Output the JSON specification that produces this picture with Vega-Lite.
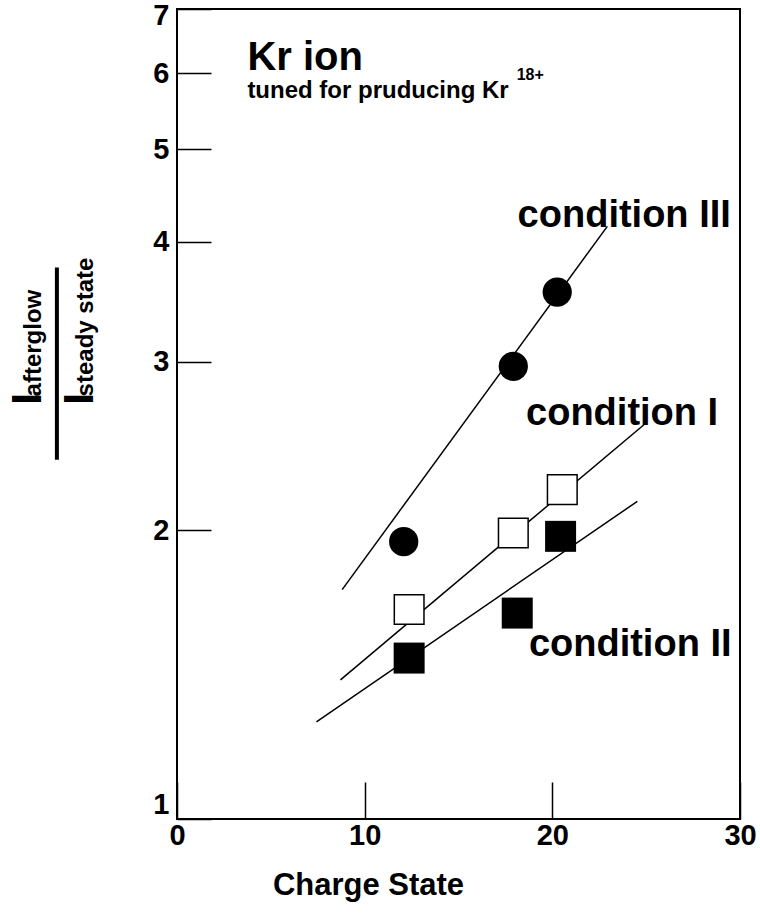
{
  "$schema": "https://vega.github.io/schema/vega-lite/v6.json",
  "width": 563,
  "height": 810,
  "autosize": {"type": "none"},
  "padding": {"left": 177, "top": 9, "right": 20, "bottom": 98},
  "background": "white",
  "config": {
    "view": {"stroke": "black", "strokeWidth": 2},
    "font": "Liberation Sans",
    "text": {"font": "Liberation Sans", "fontWeight": "bold", "color": "black"}
  },
  "datasets": {
    "points": [
      {"series": "III", "x": 20.26, "y": 3.546},
      {"series": "III", "x": 17.92, "y": 2.967},
      {"series": "III", "x": 12.08, "y": 1.947},
      {"series": "I", "x": 20.53, "y": 2.206},
      {"series": "I", "x": 17.92, "y": 1.988},
      {"series": "I", "x": 12.37, "y": 1.654},
      {"series": "II", "x": 20.44, "y": 1.972},
      {"series": "II", "x": 18.13, "y": 1.64},
      {"series": "II", "x": 12.37, "y": 1.472}
    ],
    "fits": [
      {"fit": "III", "x": 8.8, "y": 1.735},
      {"fit": "III", "x": 22.93, "y": 4.153},
      {"fit": "I", "x": 8.71, "y": 1.397},
      {"fit": "I", "x": 24.88, "y": 2.578},
      {"fit": "II", "x": 7.43, "y": 1.263},
      {"fit": "II", "x": 24.53, "y": 2.145}
    ],
    "condLabels": [
      {"x": 18.15, "y": 4.15, "label": "condition III"},
      {"x": 18.6, "y": 2.578, "label": "condition I"},
      {"x": 18.75, "y": 1.48, "label": "condition II"}
    ],
    "head": [{"x": 3.75, "y": 6.05, "label": "Kr ion"}],
    "sub": [{"x": 3.75, "y": 5.655, "label": "tuned for pruducing Kr"}],
    "sup": [{"x": 18.1, "y": 5.9, "label": "18+"}],
    "fracBig": [
      {"x": -7.24, "y": 2.705, "label": "I"},
      {"x": -4.46, "y": 2.705, "label": "I"}
    ],
    "fracSmall": [
      {"x": -7.24, "y": 2.76, "label": "afterglow"},
      {"x": -4.46, "y": 2.76, "label": "steady state"}
    ],
    "bar": [{"x": -6.4, "y": 3.761, "y2": 2.371}]
  },
  "encoding": {
    "x": {
      "field": "x", "type": "quantitative",
      "scale": {"domain": [0, 30], "nice": false, "zero": false},
      "axis": {
        "values": [0, 10, 20, 30],
        "domain": false, "grid": false,
        "tickSize": -37, "tickWidth": 1.5, "tickColor": "black",
        "labelFont": "Liberation Sans", "labelFontWeight": "bold", "labelFontSize": 29,
        "labelColor": "black", "labelPadding": 39, "labelFlush": false, "labelOverlap": false,
        "title": "Charge State",
        "titleFont": "Liberation Sans", "titleFontWeight": "bold", "titleFontSize": 31, "titleColor": "black",
        "titleX": 191, "titleY": 75, "titleAlign": "center", "titleBaseline": "alphabetic"
      }
    },
    "y": {
      "field": "y", "type": "quantitative",
      "scale": {"type": "log", "domain": [1, 7], "nice": false},
      "axis": {
        "values": [1, 2, 3, 4, 5, 6, 7],
        "format": "d",
        "domain": false, "grid": false,
        "tickSize": -34, "tickWidth": 1.5, "tickColor": "black",
        "labelFont": "Liberation Sans", "labelFontWeight": "bold", "labelFontSize": 29,
        "labelColor": "black", "labelPadding": 42, "labelFlush": false, "labelOverlap": false,
        "labelBaseline": {"condition": {"test": "datum.value == 1", "value": "bottom"}, "value": "middle"},
        "labelOffset": {"condition": {"test": "datum.value == 7", "value": 6}, "value": 0},
        "title": null
      }
    }
  },
  "layer": [
    {
      "data": {"name": "fits"},
      "mark": {"type": "line", "color": "black", "strokeWidth": 1.5},
      "encoding": {"detail": {"field": "fit"}}
    },
    {
      "data": {"name": "points"},
      "transform": [{"filter": "datum.series == 'III'"}],
      "mark": {"type": "point", "shape": "circle", "filled": true, "color": "black", "size": 855, "opacity": 1}
    },
    {
      "data": {"name": "points"},
      "transform": [{"filter": "datum.series == 'I'"}],
      "mark": {"type": "point", "shape": "square", "filled": true, "fill": "white", "stroke": "black", "strokeWidth": 1.5, "size": 880, "opacity": 1}
    },
    {
      "data": {"name": "points"},
      "transform": [{"filter": "datum.series == 'II'"}],
      "mark": {"type": "point", "shape": "square", "filled": true, "color": "black", "size": 960, "opacity": 1}
    },
    {
      "data": {"name": "condLabels"},
      "mark": {"type": "text", "fontSize": 38, "align": "left", "baseline": "alphabetic"},
      "encoding": {"text": {"field": "label"}}
    },
    {
      "data": {"name": "head"},
      "mark": {"type": "text", "fontSize": 40, "align": "left", "baseline": "alphabetic"},
      "encoding": {"text": {"field": "label"}}
    },
    {
      "data": {"name": "sub"},
      "mark": {"type": "text", "fontSize": 24, "align": "left", "baseline": "alphabetic"},
      "encoding": {"text": {"field": "label"}}
    },
    {
      "data": {"name": "sup"},
      "mark": {"type": "text", "fontSize": 16, "align": "left", "baseline": "alphabetic"},
      "encoding": {"text": {"field": "label"}}
    },
    {
      "data": {"name": "fracBig"},
      "mark": {"type": "text", "fontSize": 43, "angle": 270, "align": "left", "baseline": "alphabetic"},
      "encoding": {"text": {"field": "label"}}
    },
    {
      "data": {"name": "fracSmall"},
      "mark": {"type": "text", "fontSize": 24, "angle": 270, "align": "left", "baseline": "alphabetic"},
      "encoding": {"text": {"field": "label"}}
    },
    {
      "data": {"name": "bar"},
      "mark": {"type": "rule", "color": "black", "strokeWidth": 4},
      "encoding": {"y2": {"field": "y2"}}
    }
  ]
}
